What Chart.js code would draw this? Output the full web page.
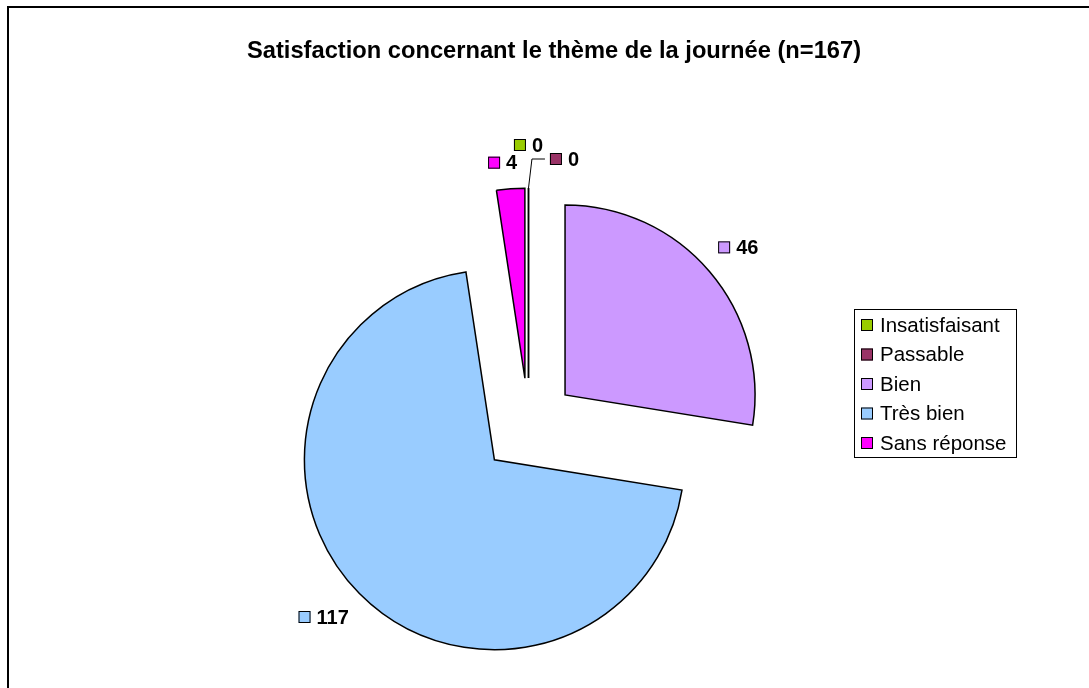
<!DOCTYPE html>
<html lang="fr">
<head>
    <meta charset="UTF-8">
    <title>Satisfaction concernant le thème de la journée</title>
    <script src="https://cdn.jsdelivr.net/npm/chart.js"></script>
    <style>
        html, body { margin: 0; padding: 0; background: #fff; }
        #wrap { width: 1089px; height: 688px; }
    </style>
</head>
<body>
    <div id="wrap"><canvas id="pieChart" width="1089" height="688"></canvas></div>

    <script>
        // Données du graphique
        const categories = ['Insatisfaisant', 'Passable', 'Bien', 'Très bien', 'Sans réponse'];
        const counts = [0, 0, 46, 117, 4];
        const sliceColors = ['#99CC00', '#993366', '#CC99FF', '#99CCFF', '#FF00FF'];
        const chartTitle = 'Satisfaction concernant le thème de la journée (n=167)';

        const FONT = "'Liberation Sans', Arial, sans-serif";
        const R = 190;          // rayon du camembert
        const OFFSET = 192;     // Chart.js déplace chaque part de offset/4
        const SHIFT = OFFSET / 4;
        // petits décalages pour les étiquettes (parts nulles surtout)
        const labelNudge = [[0, -18], [36, -4], [0, 0], [-7, -5], [-6, 0]];

        // Chart.js agrandit et rétrécit les parts décalées selon leur angle :
        // avec circumference = PI/2 la correction vaut 0, start/end restent justes
        const keepShape = {
            id: 'keepShape',
            afterDatasetUpdate(chart, args) {
                args.meta.data.forEach(arc => {
                    if (arc.circumference > 0) arc.circumference = Math.PI / 2;
                });
            }
        };

        // Cadre, titre et légende façon Excel
        const frame = {
            id: 'frame',
            beforeDraw(chart) {
                const ctx = chart.ctx;
                ctx.save();
                ctx.fillStyle = '#fff';
                ctx.fillRect(0, 0, chart.width, chart.height);
                ctx.strokeStyle = '#000';
                ctx.lineWidth = 2;
                ctx.strokeRect(8, 7, 1200, 1200);

                ctx.fillStyle = '#000';
                ctx.font = 'bold 23.7px ' + FONT;
                ctx.textAlign = 'center';
                ctx.textBaseline = 'middle';
                ctx.fillText(chartTitle, 554, 51);

                // légende
                ctx.lineWidth = 1;
                ctx.strokeRect(854.5, 309.5, 162, 148);
                ctx.font = '20.5px ' + FONT;
                ctx.textAlign = 'left';
                categories.forEach((name, i) => {
                    const y = 325 + i * 29.5;
                    ctx.fillStyle = sliceColors[i];
                    ctx.fillRect(861, y - 6, 12, 12);
                    ctx.strokeRect(861.5, y - 5.5, 11, 11);
                    ctx.fillStyle = '#000';
                    ctx.fillText(name, 880, y + 1);
                });
                ctx.restore();
            }
        };

        // Étiquettes de valeurs + parts nulles
        const valueLabels = {
            id: 'valueLabels',
            afterDatasetsDraw(chart) {
                const ctx = chart.ctx;
                const meta = chart.getDatasetMeta(0);
                ctx.save();
                ctx.strokeStyle = '#000';
                meta.data.forEach((arc, i) => {
                    const mid = (arc.startAngle + arc.endAngle) / 2;
                    const dx = Math.cos(mid), dy = Math.sin(mid);
                    const vx = arc.x + dx * SHIFT, vy = arc.y + dy * SHIFT;

                    if (counts[i] === 0) {
                        ctx.lineWidth = 1.5;
                        ctx.beginPath();
                        ctx.moveTo(vx, vy);
                        ctx.lineTo(vx + dx * R, vy + dy * R);
                        ctx.stroke();
                    }

                    const txt = String(counts[i]);
                    ctx.font = 'bold 20px ' + FONT;
                    const tw = ctx.measureText(txt).width;
                    const w = 18 + tw, h = 16;
                    const dist = R + 17 + Math.abs(dx) * w / 2 + Math.abs(dy) * h / 2;
                    const cx = vx + dx * dist + labelNudge[i][0];
                    const cy = vy + dy * dist + labelNudge[i][1];
                    const left = cx - w / 2;

                    if (counts[i] === 0 && labelNudge[i][0] !== 0) {
                        ctx.lineWidth = 1;
                        ctx.beginPath();
                        ctx.moveTo(vx + dx * R, vy + dy * R);
                        ctx.lineTo(left - 18, cy);
                        ctx.lineTo(left - 5, cy);
                        ctx.stroke();
                    }

                    ctx.lineWidth = 1;
                    ctx.fillStyle = sliceColors[i];
                    ctx.fillRect(left, cy - 6, 12, 12);
                    ctx.strokeRect(left + 0.5, cy - 5.5, 11, 11);
                    ctx.fillStyle = '#000';
                    ctx.textAlign = 'left';
                    ctx.textBaseline = 'middle';
                    ctx.fillText(txt, left + 18, cy + 1);
                });
                ctx.restore();
            }
        };

        const ctx = document.getElementById('pieChart').getContext('2d');
        const pieChart = new Chart(ctx, {
            type: 'pie',
            data: {
                labels: categories,
                datasets: [{
                    data: counts,
                    backgroundColor: sliceColors,
                    borderColor: '#000',
                    borderWidth: 1.5,
                    borderJoinStyle: 'miter',
                    offset: OFFSET,
                    hoverOffset: 0,
                    clip: false
                }]
            },
            options: {
                responsive: false,
                animation: false,
                events: [],
                radius: R,
                layout: { padding: { left: 0, right: 32, top: 164, bottom: 0 } },
                plugins: {
                    legend: { display: false },
                    tooltip: { enabled: false },
                    title: { display: false }
                }
            },
            plugins: [frame, keepShape, valueLabels]
        });
    </script>
</body>
</html>
